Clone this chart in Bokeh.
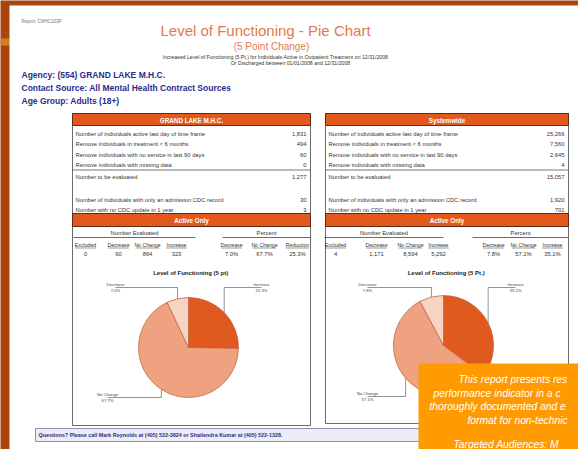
import math
from bokeh.plotting import figure
from bokeh.models import Range1d
from bokeh.core.properties import value
from bokeh.embed import file_html
from bokeh.resources import INLINE

# ---------------- data ----------------
report_id = "Report: CMHC103P"
title = "Level of Functioning - Pie Chart"
subtitle = "(5 Point Change)"
desc_lines = ["Increased Level of Functioning (5 Pt.) for Individuals Active in Outpatient Treatment on 12/31/2008",
              "Or Discharged between 01/01/2008 and 12/31/2008"]
info_lines = ["Agency: (554) GRAND LAKE M.H.C.",
              "Contact Source: All Mental Health Contract Sources",
              "Age Group: Adults (18+)"]

funnel_labels = ["Number of individuals active last day of time frame",
                 "Remove individuals in treatment < 6 months",
                 "Remove individuals with no service in last 90 days",
                 "Remove individuals with missing data",
                 "Number to be evaluated",
                 "Number of individuals with only an admission CDC record",
                 "Number with no CDC update in 1 year"]

agency_name = "GRAND LAKE M.H.C."
agency_funnel = [1831, 494, 60, 0, 1277, 30, 3]
system_name = "Systemwide"
system_funnel = [25266, 7560, 2645, 4, 15057, 1920, 701]

active_title = "Active Only"
group_headers = ["Number Evaluated", "Percent"]
count_headers = ["Excluded", "Decrease", "No Change", "Increase"]
agency_pct_headers = ["Decrease", "No Change", "Reduction"]
system_pct_headers = ["Decrease", "No Change", "Increase"]

pie_categories = ["Decrease", "No Change", "Increase"]
agency_excluded = 0
agency_counts = [90, 864, 323]
agency_pct = [7.0, 67.7, 25.3]
system_excluded = 4
system_counts = [1171, 8594, 5292]
system_pct = [7.8, 57.1, 35.1]

agency_pie_title = "Level of Functioning  (5 pt)"
system_pie_title = "Level of Functioning  (5 Pt.)"

footer = "Questions? Please call Mark Reynolds at (405) 522-3824 or Shailendra Kumar at (405) 522-1328."
# the callout runs off the right edge of the page in the original; visible parts only
callout_lines = ["This report presents res",
                 "performance indicator in a c",
                 "thoroughly documented and e",
                 "format for non-technic",
                 "Targeted Audiences: M"]

# ---------------- styles ----------------
FONT = value("Liberation Sans")
BROWN = "#a8460d"
HEAD = "#e2591b"
NAVY = "#2b2c8c"
TITLE_C = "#e07a4c"
PIE_COLORS = {"Decrease": "#f7d3c3", "No Change": "#eea27f", "Increase": "#e0591f"}

W, H = 578, 449
p = figure(width=W, height=H, output_backend="svg", toolbar_location=None,
           x_range=Range1d(0, W), y_range=Range1d(0, H),
           min_border=0, background_fill_color=BROWN, border_fill_color=BROWN)
p.axis.visible = False
p.grid.visible = False
p.outline_line_color = None


def Y(y):
    return H - y


def txt(xs, ys, texts, size, color="#222222", align="left", style="normal", baseline="middle"):
    p.text(x=list(xs), y=[Y(v) for v in ys], text=list(texts), text_font=FONT,
           text_font_size=value(f"{size}px"), text_color=color, text_align=align,
           text_baseline=baseline, text_font_style=style)


def box(x0, x1, y0, y1, fill, line=None, lw=1.0):
    p.quad(left=[x0], right=[x1], top=[Y(y0)], bottom=[Y(y1)], fill_color=fill,
           line_color=line, line_width=lw)


def seg(x0, y0, x1, y1, color="#555555", lw=0.8):
    p.segment(x0=[x0], y0=[Y(y0)], x1=[x1], y1=[Y(y1)], line_color=color, line_width=lw)


# background decoration and page
box(0, 9, 38, 45, "#d47e1e")
box(9, 578, 5, 449, "white")
txt([21], [20.5], [report_id], 4.5, color="#777777")
txt([265], [30], [title], 15, color=TITLE_C, align="center")
txt([271], [46], [subtitle], 10, color=TITLE_C, align="center")
txt([275, 290], [56, 62.5], desc_lines, 5.2, color="#333333", align="center")
txt([21, 21, 21], [74, 87, 100], info_lines, 8.5, color=NAVY, style="bold")


def panel(x0, x1, bottom, name, funnel, excluded, counts, pcts, pct_headers, pie_title,
          col_x, pct_x, grp_spans, cx, cy, r, label_x, label_y):
    box(x0, x1, 113, bottom, "white", "#6a6a6a", 1)
    box(x0, x1, 113, 125, HEAD, "#5b2c16", 1)
    mid = (x0 + x1) / 2
    txt([mid], [119.5], [name], 6.3, color="white", align="center", style="bold")
    rows_y = [133, 143.5, 154, 164.5, 176, 199, 209]
    txt([x0 + 3] * 7, rows_y, funnel_labels, 5.8, color="#333333")
    txt([x1 - 4] * 7, rows_y, [f"{v:,}" for v in funnel], 5.8, color="#333333", align="right")
    seg(x0, 169.5, x1, 169.5, "#555555", 0.8)
    box(x0, x1, 213, 226, HEAD, "#5b2c16", 1)
    txt([mid], [219.5], [active_title], 6.3, color="white", align="center", style="bold")
    for (gx0, gx1), g in zip(grp_spans, group_headers):
        txt([(gx0 + gx1) / 2], [232], [g], 5.8, color="#333333", align="center")
        seg(gx0, 237, gx1, 237, "#444444", 0.8)
    hdrs = count_headers + pct_headers
    xs = col_x + pct_x
    txt(xs, [244] * len(xs), hdrs, 5.2, color="#333333", align="center")
    for hx, h in zip(xs, hdrs):
        w = len(h) * 2.6
        seg(hx - w / 2, 247.5, hx + w / 2, 247.5, "#555555", 0.6)
    vals = [f"{excluded:,}"] + [f"{c:,}" for c in counts] + [f"{v:.1f}%" for v in pcts]
    txt(xs, [253] * len(xs), vals, 5.8, color="#333333", align="center")
    txt([mid], [272], [pie_title], 6.0, color="#222222", align="center", style="bold")
    # pie: clockwise from 12 o'clock: Increase, No Change, Decrease
    order = [2, 1, 0]
    total = sum(counts)
    cum = 0.0
    for i in order:
        frac = counts[i] / total
        a_start = 90 - 360 * cum
        a_end = 90 - 360 * (cum + frac)
        cum += frac
        p.wedge(x=[cx], y=[Y(cy)], radius=r, start_angle=math.radians(a_end),
                end_angle=math.radians(a_start), direction="anticlock",
                fill_color=PIE_COLORS[pie_categories[i]], line_color="#bf5a36", line_width=0.7)
        amid = math.radians((a_start + a_end) / 2)
        ax = cx + r * math.cos(amid)
        ay = cy - r * math.sin(amid)
        lx = label_x[i]
        ly = label_y[i]
        seg(ax, ay, ax, ly, "#666666", 0.7)
        seg(ax, ly, lx, ly, "#666666", 0.7)
        txt([lx], [ly - 2.6], [pie_categories[i]], 4.2, color="#444444", align="center")
        txt([lx], [ly + 2.8], [f"{pcts[i]:.1f}%"], 4.2, color="#444444", align="center")


panel(72, 310, 425, agency_name, agency_funnel, agency_excluded, agency_counts, agency_pct,
      agency_pct_headers, agency_pie_title,
      [85, 118, 147, 176], [231, 264, 297], [(73, 195), (222, 310)],
      188, 347, 50, [115, 107, 261], [287, 397, 287])
panel(325, 568, 423, system_name, system_funnel, system_excluded, system_counts, system_pct,
      system_pct_headers, system_pie_title,
      [335, 376, 410, 438], [493, 523, 552], [(324, 443), (472, 568)],
      443, 345, 50, [367, 367, 515], [287, 396, 287])

# footer
box(35, 580, 428, 441, "#eceef5", "#8d90b3", 1)
txt([38], [434.5], [footer], 5.4, color=NAVY, style="bold")

# callout
box(418, 580, 363, 452, "#ff9a00", None)
txt([458, 433, 429, 467, 453], [379, 392.5, 406, 419.5, 444], callout_lines, 10.3,
    color="white", style="italic")

open("out.html", "w").write(file_html(p, INLINE))
